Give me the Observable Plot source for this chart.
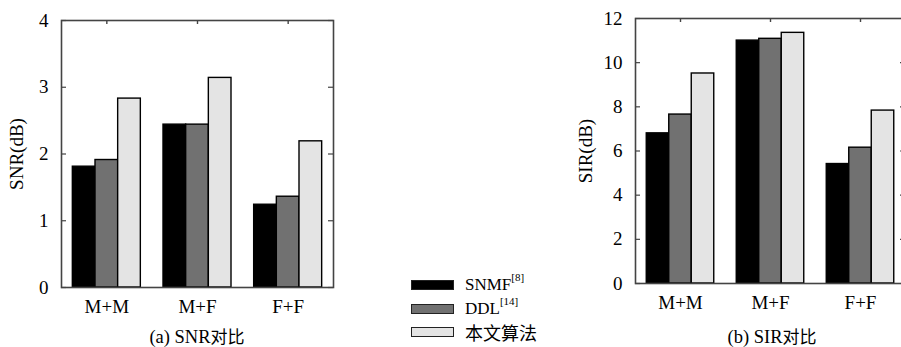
<!DOCTYPE html>
<html><head><meta charset="utf-8">
<script src="https://cdn.jsdelivr.net/npm/d3@7"></script>
<script src="https://cdn.jsdelivr.net/npm/@observablehq/plot@0.6"></script>
<style>
html,body{margin:0;padding:0;background:#fff;overflow:hidden;width:901px;height:347px;}
#root{position:relative;width:901px;height:347px;overflow:hidden;}
.chart{position:absolute;top:0;}
.cap{position:absolute;font-family:"Liberation Serif","Times New Roman","DejaVu Serif",serif;font-size:18.5px;line-height:20px;color:#000;white-space:nowrap;transform:translateX(-50%);}
.cap .cjk{font-family:"Noto Sans CJK SC",sans-serif;font-size:17px;}
#legend{position:absolute;left:411px;top:273px;font-family:"Liberation Serif","Times New Roman","DejaVu Serif",serif;font-size:17px;line-height:20px;color:#000;}
.row{display:flex;align-items:center;height:23.7px;}
.sw{width:41px;height:8px;border:1px solid #222;margin-right:11px;}
.row sup{font-size:11px;line-height:11px;vertical-align:top;position:relative;top:-3px;}
.cjk{font-family:"Noto Sans CJK SC",sans-serif;font-size:18px;line-height:20px;}
</style>
</head><body>
<div id="root"></div>
<script>
const groups = ["M+M", "M+F", "F+F"];
const methods = ["SNMF", "DDL", "本文算法"];
const snrSNMF = [1.81, 2.44, 1.24];
const snrDDL  = [1.91, 2.44, 1.36];
const snrOurs = [2.83, 3.14, 2.19];
const sirSNMF = [6.80, 11.00, 5.41];
const sirDDL  = [7.65, 11.08, 6.15];
const sirOurs = [9.51, 11.35, 7.83];
const snrTicks = [0, 1, 2, 3, 4];
const sirTicks = [0, 2, 4, 6, 8, 10, 12];
const colors = ["#000000", "#717171", "#e4e4e4"];

const FONT = '"Liberation Serif", "Times New Roman", "DejaVu Serif", serif';

function makeChart({series, ticks, label, left, marginLeft, marginTop, plotW, plotH, marginRight, labelOffset}) {
  const rows = [];
  groups.forEach((g, gi) => series.forEach((s, mi) => rows.push({g: gi, m: mi, v: s[gi]})));
  const marginBottom = 347 - marginTop - plotH;
  const width = marginLeft + plotW + marginRight;
  const height = marginTop + plotH + marginBottom;
  const bw = 0.25;
  const chart = Plot.plot({
    width, height, marginLeft, marginRight, marginTop, marginBottom,
    style: {fontFamily: FONT, fontSize: "19px", color: "#000", background: "transparent", overflow: "visible"},
    x: {type: "linear", domain: [-0.5, groups.length - 0.5]},
    y: {domain: [ticks[0], ticks[ticks.length - 1]]},
    color: {domain: methods, range: colors},
    marks: [
      Plot.rectY(rows, {
        x1: d => d.g + (d.m - 1) * bw - bw / 2,
        x2: d => d.g + (d.m - 1) * bw + bw / 2,
        y: "v", fill: d => methods[d.m], stroke: "#000", strokeWidth: 1.4
      }),
      Plot.tickY(ticks, {y: d => d, insetRight: plotW - 5, stroke: "#444", strokeWidth: 1.2}),
      Plot.tickY(ticks, {y: d => d, insetLeft: plotW - 5, stroke: "#444", strokeWidth: 1.2}),
      Plot.tickX(groups.map((g, i) => i), {x: d => d, insetBottom: plotH - 4, stroke: "#444", strokeWidth: 1.4}),
      Plot.frame({stroke: "#444", strokeWidth: 1.6}),
      Plot.axisY({ticks, tickFormat: d => String(d), tickSize: 0, tickPadding: 13, label, labelAnchor: "center", labelArrow: "none", labelOffset, fontSize: 19}),
      Plot.axisX({ticks: groups.map((g, i) => i), tickFormat: i => groups[i], tickSize: 0, tickPadding: 12, label: null, fontSize: 19})
    ]
  });
  chart.classList.add("chart");
  chart.style.left = left + "px";
  return chart;
}

const root = document.getElementById("root");
root.appendChild(makeChart({series: [snrSNMF, snrDDL, snrOurs], ticks: snrTicks, label: "SNR(dB)",
  left: 0, marginLeft: 61, marginTop: 20, plotW: 272, plotH: 267, marginRight: 7, labelOffset: 52}));
root.appendChild(makeChart({series: [sirSNMF, sirDDL, sirOurs], ticks: sirTicks, label: "SIR(dB)",
  left: 555, marginLeft: 80, marginTop: 18, plotW: 270, plotH: 265, marginRight: 6, labelOffset: 57}));

function caption(prefix, zh, x) {
  const c = document.createElement("div");
  c.className = "cap"; c.style.left = x + "px"; c.style.top = "326px";
  c.appendChild(document.createTextNode(prefix));
  const s = document.createElement("span");
  s.className = "cjk"; s.textContent = zh;
  c.appendChild(s);
  root.appendChild(c);
}
caption("(a) SNR", "对比", 197);
caption("(b) SIR", "对比", 772);

const legend = document.createElement("div");
legend.id = "legend";
const refs = ["[8]", "[14]", ""];
methods.forEach((m, i) => {
  const row = document.createElement("div");
  row.className = "row";
  const sw = document.createElement("div");
  sw.className = "sw";
  sw.style.background = colors[i];
  row.appendChild(sw);
  const t = document.createElement("span");
  if (refs[i]) {
    t.textContent = m;
    const s = document.createElement("sup");
    s.textContent = refs[i];
    t.appendChild(s);
  } else {
    t.className = "cjk";
    t.textContent = m;
  }
  row.appendChild(t);
  legend.appendChild(row);
});
root.appendChild(legend);
</script>
</body></html>
